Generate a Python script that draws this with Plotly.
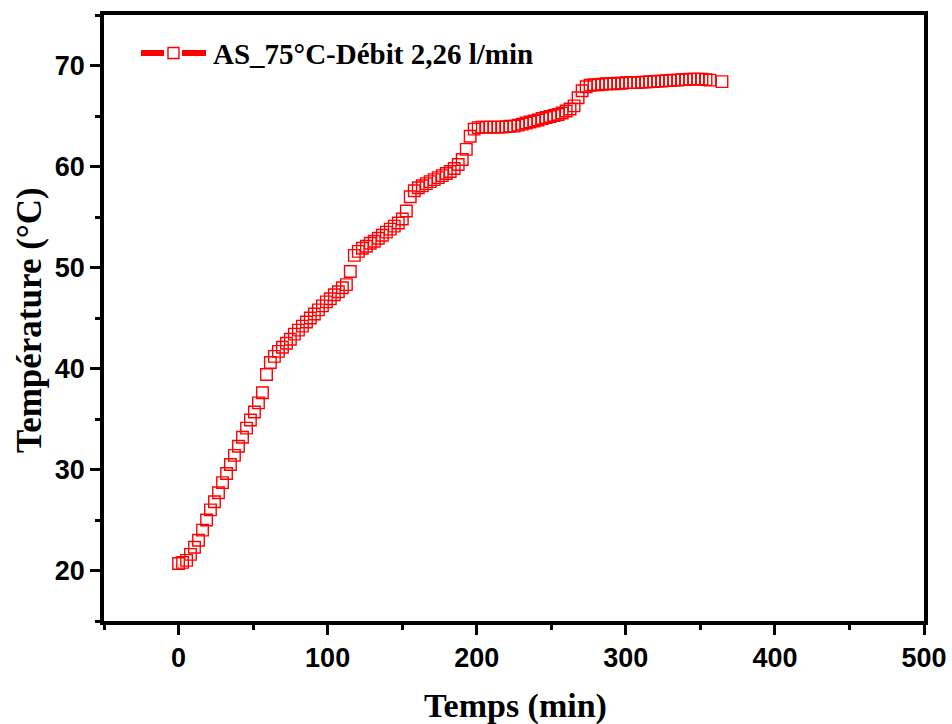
import plotly.graph_objects as go

# Heating curve: time (min) vs. temperature (°C)
temps_min = [
    0.0, 2.7, 5.4, 8.0, 10.7, 13.4, 16.1, 18.8, 21.4, 24.1,
    26.8, 29.5, 32.2, 34.8, 37.5, 40.2, 42.9, 45.6, 48.2, 50.9,
    53.6, 56.3, 59.0, 61.6, 64.3, 67.0, 69.7, 72.4, 75.0, 77.7,
    80.4, 83.1, 85.8, 88.4, 91.1, 93.8, 96.5, 99.2, 101.8, 104.5,
    107.2, 109.9, 112.6, 115.2, 117.9, 120.6, 123.3, 126.0, 128.6, 131.3,
    134.0, 136.7, 139.4, 142.0, 144.7, 147.4, 150.1, 152.8, 155.4, 158.1,
    160.8, 163.5, 166.2, 168.8, 171.5, 174.2, 176.9, 179.6, 182.2, 184.9,
    187.6, 190.3, 193.0, 195.6, 198.3, 201.0, 203.7, 206.4, 209.0, 211.7,
    214.4, 217.1, 219.8, 222.4, 225.1, 227.8, 230.5, 233.2, 235.8, 238.5,
    241.2, 243.9, 246.6, 249.2, 251.9, 254.6, 257.3, 260.0, 262.6, 265.3,
    268.0, 270.7, 273.4, 276.0, 278.7, 281.4, 284.1, 286.8, 289.4, 292.1,
    294.8, 297.5, 300.2, 302.8, 305.5, 308.2, 310.9, 313.6, 316.2, 318.9,
    321.6, 324.3, 327.0, 329.6, 332.3, 335.0, 337.7, 340.4, 343.0, 345.7,
    348.4, 351.1, 353.8, 356.4, 364.5,
]
temperature_c = [
    20.7, 20.8, 21.0, 21.6, 22.3, 23.0, 24.0, 25.0, 26.0, 26.8,
    27.7, 28.7, 29.6, 30.5, 31.4, 32.3, 33.2, 34.1, 34.9, 35.7,
    36.6, 37.6, 39.4, 40.6, 41.2, 41.7, 42.1, 42.5, 42.9, 43.4,
    43.8, 44.2, 44.6, 45.0, 45.4, 45.8, 46.2, 46.6, 46.9, 47.3,
    47.6, 48.0, 48.3, 49.6, 51.2, 51.6, 51.9, 52.1, 52.4, 52.6,
    52.9, 53.2, 53.5, 53.8, 54.1, 54.4, 54.8, 55.6, 57.0, 57.6,
    57.9, 58.1, 58.3, 58.5, 58.7, 58.9, 59.1, 59.3, 59.5, 59.8,
    60.2, 60.7, 61.7, 63.0, 63.7, 63.85, 63.9, 63.9, 63.9, 63.9,
    63.9, 63.9, 63.95, 64.0, 64.0, 64.1, 64.2, 64.3, 64.4, 64.5,
    64.6, 64.75, 64.85, 64.95, 65.05, 65.15, 65.3, 65.5, 65.7, 66.0,
    66.8, 67.5, 67.9, 68.05, 68.1, 68.1, 68.15, 68.2, 68.2, 68.2,
    68.25, 68.25, 68.3, 68.3, 68.3, 68.3, 68.35, 68.35, 68.4, 68.4,
    68.45, 68.45, 68.5, 68.5, 68.55, 68.55, 68.6, 68.6, 68.65, 68.65,
    68.65, 68.65, 68.6, 68.55, 68.4,
]
assert len(temps_min) == len(temperature_c)

series_name = "AS_75°C-Débit 2,26 l/min"
x_tick_values = [0, 100, 200, 300, 400, 500]
y_tick_values = [20, 30, 40, 50, 60, 70]

RED = "#ff0000"
W, H = 952, 724
ML, MR, MT, MB = 104, 28, 15, 103
PW, PH = W - ML - MR, H - MT - MB


def px_x(px):
    return (px - ML) / PW


def px_y(py):
    return (H - MB - py) / PH


fig = go.Figure()
fig.add_trace(go.Scatter(
    x=temps_min, y=temperature_c, mode="markers", name=series_name,
    showlegend=False, cliponaxis=False,
    marker=dict(symbol="square-open", size=11.5, color=RED,
                line=dict(width=1.4, color=RED)),
))

axis_common = dict(
    showline=True, linecolor="black", linewidth=3.5, mirror=True,
    showgrid=False, zeroline=False, automargin=False,
    ticks="outside", ticklen=10, tickwidth=3, tickcolor="black",
    tickfont=dict(family="Liberation Sans", size=27, color="black", weight="bold"),
)

fig.update_xaxes(range=[-50, 500], tickvals=x_tick_values,
                 minor=dict(ticks="outside", ticklen=5, tickwidth=3,
                            tickcolor="black", dtick=50, tick0=0),
                 **axis_common)
fig.update_yaxes(range=[15, 75], tickvals=y_tick_values,
                 minor=dict(ticks="outside", ticklen=5, tickwidth=3,
                            tickcolor="black", dtick=5, tick0=0),
                 **axis_common)

# Legend: line segment / open square / line segment, then label
ly = px_y(53)
shapes = [
    dict(type="line", xref="paper", yref="paper", x0=px_x(141), x1=px_x(164),
         y0=ly, y1=ly, line=dict(color=RED, width=6)),
    dict(type="line", xref="paper", yref="paper", x0=px_x(182), x1=px_x(206),
         y0=ly, y1=ly, line=dict(color=RED, width=6)),
    dict(type="rect", xref="paper", yref="paper", x0=px_x(168), x1=px_x(179),
         y0=px_y(58.5), y1=px_y(47.5), line=dict(color=RED, width=1.4),
         fillcolor="white"),
]

annotations = [
    dict(text=series_name, xref="paper", yref="paper", x=px_x(211), y=px_y(54),
         xanchor="left", yanchor="middle", showarrow=False,
         font=dict(family="Liberation Serif", size=29, color="black", weight="bold")),
    dict(text="Temps (min)", xref="paper", yref="paper", x=px_x(515), y=px_y(706),
         xanchor="center", yanchor="middle", showarrow=False,
         font=dict(family="Liberation Serif", size=34, color="black", weight="bold")),
    dict(text="Température (°C)", xref="paper", yref="paper", x=px_x(30), y=px_y(320),
         xanchor="center", yanchor="middle", textangle=-90, showarrow=False,
         font=dict(family="Liberation Serif", size=35, color="black", weight="bold")),
]

fig.update_layout(
    width=W, height=H,
    margin=dict(l=ML, r=MR, t=MT, b=MB, autoexpand=False),
    paper_bgcolor="white", plot_bgcolor="white",
    shapes=shapes, annotations=annotations,
    showlegend=False,
)

fig.write_html("out.html")
